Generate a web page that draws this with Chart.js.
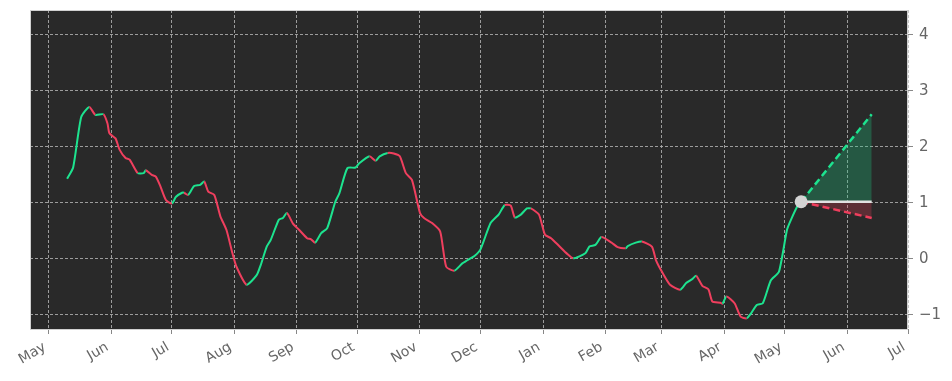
<!DOCTYPE html>
<html>
<head>
<meta charset="utf-8">
<script src="https://cdn.jsdelivr.net/npm/chart.js@4/dist/chart.umd.min.js"></script>
<style>
  html, body { margin: 0; padding: 0; background: #fff; }
  #wrap { width: 952px; height: 381px; }
</style>
</head>
<body>
<div id="wrap"><canvas id="trendChart"></canvas></div>
<script>
// days since 1 May of the first year, and the smoothed indicator value
const days = [9, 12, 16, 20, 23, 27, 29, 30, 33, 35, 38, 40, 44, 47, 48, 51, 53, 55, 58, 61,
  63, 66, 67, 69, 72, 75, 77, 79, 82, 85, 88, 91, 93, 98, 103, 105, 108, 110, 114, 116,
  118, 121, 124, 128, 130, 132, 135, 138, 142, 144, 148, 152, 154, 159, 162, 164, 168, 171, 174, 177,
  180, 184, 186, 190, 194, 197, 201, 205, 209, 211, 214, 219, 223, 226, 229, 231, 234, 237, 239, 243,
  246, 249, 253, 257, 260, 266, 268, 271, 274, 279, 282, 286, 287, 291, 294, 299, 301, 304, 308, 313,
  316, 319, 321, 324, 327, 329, 333, 334, 336, 340, 343, 346, 348, 351, 354, 358, 362, 366, 368, 371, 373];
const values = [1.43, 1.63, 2.53, 2.71, 2.57, 2.58, 2.42, 2.24, 2.15, 1.95, 1.80, 1.77, 1.53, 1.53, 1.58, 1.50, 1.47, 1.32, 1.05, 0.99,
  1.11, 1.18, 1.18, 1.14, 1.30, 1.32, 1.38, 1.20, 1.14, 0.76, 0.52, 0.10, -0.14, -0.46, -0.29, -0.11, 0.22, 0.34, 0.70, 0.73,
  0.82, 0.63, 0.52, 0.37, 0.35, 0.29, 0.46, 0.55, 1.02, 1.17, 1.62, 1.63, 1.71, 1.83, 1.75, 1.83, 1.89, 1.88, 1.83, 1.53,
  1.41, 0.82, 0.73, 0.64, 0.49, -0.14, -0.21, -0.08, 0.01, 0.05, 0.17, 0.64, 0.79, 0.96, 0.95, 0.74, 0.79, 0.90, 0.90, 0.79,
  0.43, 0.37, 0.23, 0.09, 0.01, 0.10, 0.22, 0.25, 0.39, 0.29, 0.21, 0.19, 0.23, 0.29, 0.31, 0.22, -0.02, -0.23, -0.46, -0.55,
  -0.43, -0.36, -0.30, -0.48, -0.54, -0.76, -0.78, -0.80, -0.67, -0.79, -1.03, -1.06, -0.98, -0.82, -0.79, -0.38, -0.23, 0.52, 0.70, 0.93, 1.02];

// forecast fan
const fcDays = [373, 408];
const fcUpper = [1.02, 2.58];
const fcBase = [1.02, 1.02];
const fcLower = [1.02, 0.73];

// month ticks
const monthDays = [0, 31, 61, 92, 123, 153, 184, 214, 245, 276, 304, 335, 365, 396, 426];
const monthLabels = ['May', 'Jun', 'Jul', 'Aug', 'Sep', 'Oct', 'Nov', 'Dec', 'Jan', 'Feb', 'Mar', 'Apr', 'May', 'Jun', 'Jul'];
const yTicks = [-1, 0, 1, 2, 3, 4];

const GREEN = '#1de38f';
const RED = '#ef3f5e';
const GRID = 'rgba(185, 185, 185, 0.8)';
const LABEL = '#666666';

const toXY = (xs, ys) => xs.map((x, i) => ({ x: x, y: ys[i] }));

const plotFrame = {
    id: 'plotFrame',
    beforeDraw(chart) {
        const { ctx, chartArea: a } = chart;
        ctx.save();
        ctx.fillStyle = '#292929';
        ctx.fillRect(a.left, a.top, a.right - a.left, a.bottom - a.top);
        ctx.restore();
    },
    afterDraw(chart) {
        const { ctx, chartArea: a } = chart;
        ctx.save();
        ctx.strokeStyle = '#d0d0d0';
        ctx.lineWidth = 1;
        ctx.strokeRect(a.left + 0.5, a.top + 0.5, a.right - a.left - 1, a.bottom - a.top);
        ctx.restore();
    }
};

const ctx = document.getElementById('trendChart').getContext('2d');
new Chart(ctx, {
    type: 'line',
    data: {
        datasets: [
            {
                data: toXY(fcDays, fcUpper),
                borderColor: GREEN,
                borderWidth: 2.5,
                borderDash: [7, 4],
                backgroundColor: 'rgba(30, 200, 130, 0.3)',
                fill: '+1',
                pointRadius: 0,
                order: 3
            },
            {
                data: toXY(fcDays, fcBase),
                borderColor: '#e2e2e2',
                borderWidth: 2.5,
                backgroundColor: 'rgba(240, 60, 90, 0.26)',
                fill: '+1',
                pointRadius: 0,
                order: 2
            },
            {
                data: toXY(fcDays, fcLower),
                borderColor: RED,
                borderWidth: 2.5,
                borderDash: [7, 4],
                fill: false,
                pointRadius: 0,
                order: 4
            },
            {
                data: toXY(days, values),
                borderWidth: 2,
                tension: 0.2,
                pointRadius: 0,
                fill: false,
                segment: {
                    borderColor: c => c.p1.parsed.y >= c.p0.parsed.y ? GREEN : RED
                },
                order: 5
            },
            {
                data: [{ x: fcDays[0], y: fcBase[0] }],
                showLine: false,
                pointRadius: 6.5,
                pointBackgroundColor: '#d4d4d4',
                pointBorderWidth: 0,
                order: 1
            }
        ]
    },
    options: {
        responsive: true,
        maintainAspectRatio: false,
        animation: false,
        layout: { padding: { left: 30, top: 10, right: 0, bottom: 0 } },
        plugins: {
            legend: { display: false },
            tooltip: { enabled: false }
        },
        scales: {
            x: {
                type: 'linear',
                min: -9.4,
                max: 426,
                afterBuildTicks: s => { s.ticks = monthDays.map(v => ({ value: v })); },
                afterFit: s => { s.height = 52; s.paddingLeft = 0; s.paddingRight = 0; },
                ticks: {
                    autoSkip: false,
                    maxRotation: 30,
                    minRotation: 30,
                    padding: 5,
                    labelOffset: -4,
                    color: LABEL,
                    font: { family: 'DejaVu Sans', size: 14 },
                    callback: (v, i) => monthLabels[i]
                },
                grid: {
                    color: GRID,
                    tickColor: '#888',
                    tickBorderDash: [],
                    tickLength: 5,
                    tickWidth: 1
                },
                border: { display: false, dash: [3, 2] }
            },
            y: {
                position: 'right',
                min: -1.25,
                max: 4.44,
                afterBuildTicks: s => { s.ticks = yTicks.map(v => ({ value: v })); },
                afterFit: s => { s.width = 44; s.paddingTop = 0; s.paddingBottom = 0; },
                ticks: {
                    padding: 6,
                    color: LABEL,
                    font: { family: 'DejaVu Sans', size: 15 },
                    callback: v => v < 0 ? '\u2212' + Math.abs(v) : String(v)
                },
                grid: {
                    color: GRID,
                    tickColor: '#888',
                    tickBorderDash: [],
                    tickLength: 5,
                    tickWidth: 1
                },
                border: { display: false, dash: [3, 2] }
            }
        }
    },
    plugins: [plotFrame]
});
</script>
</body>
</html>
